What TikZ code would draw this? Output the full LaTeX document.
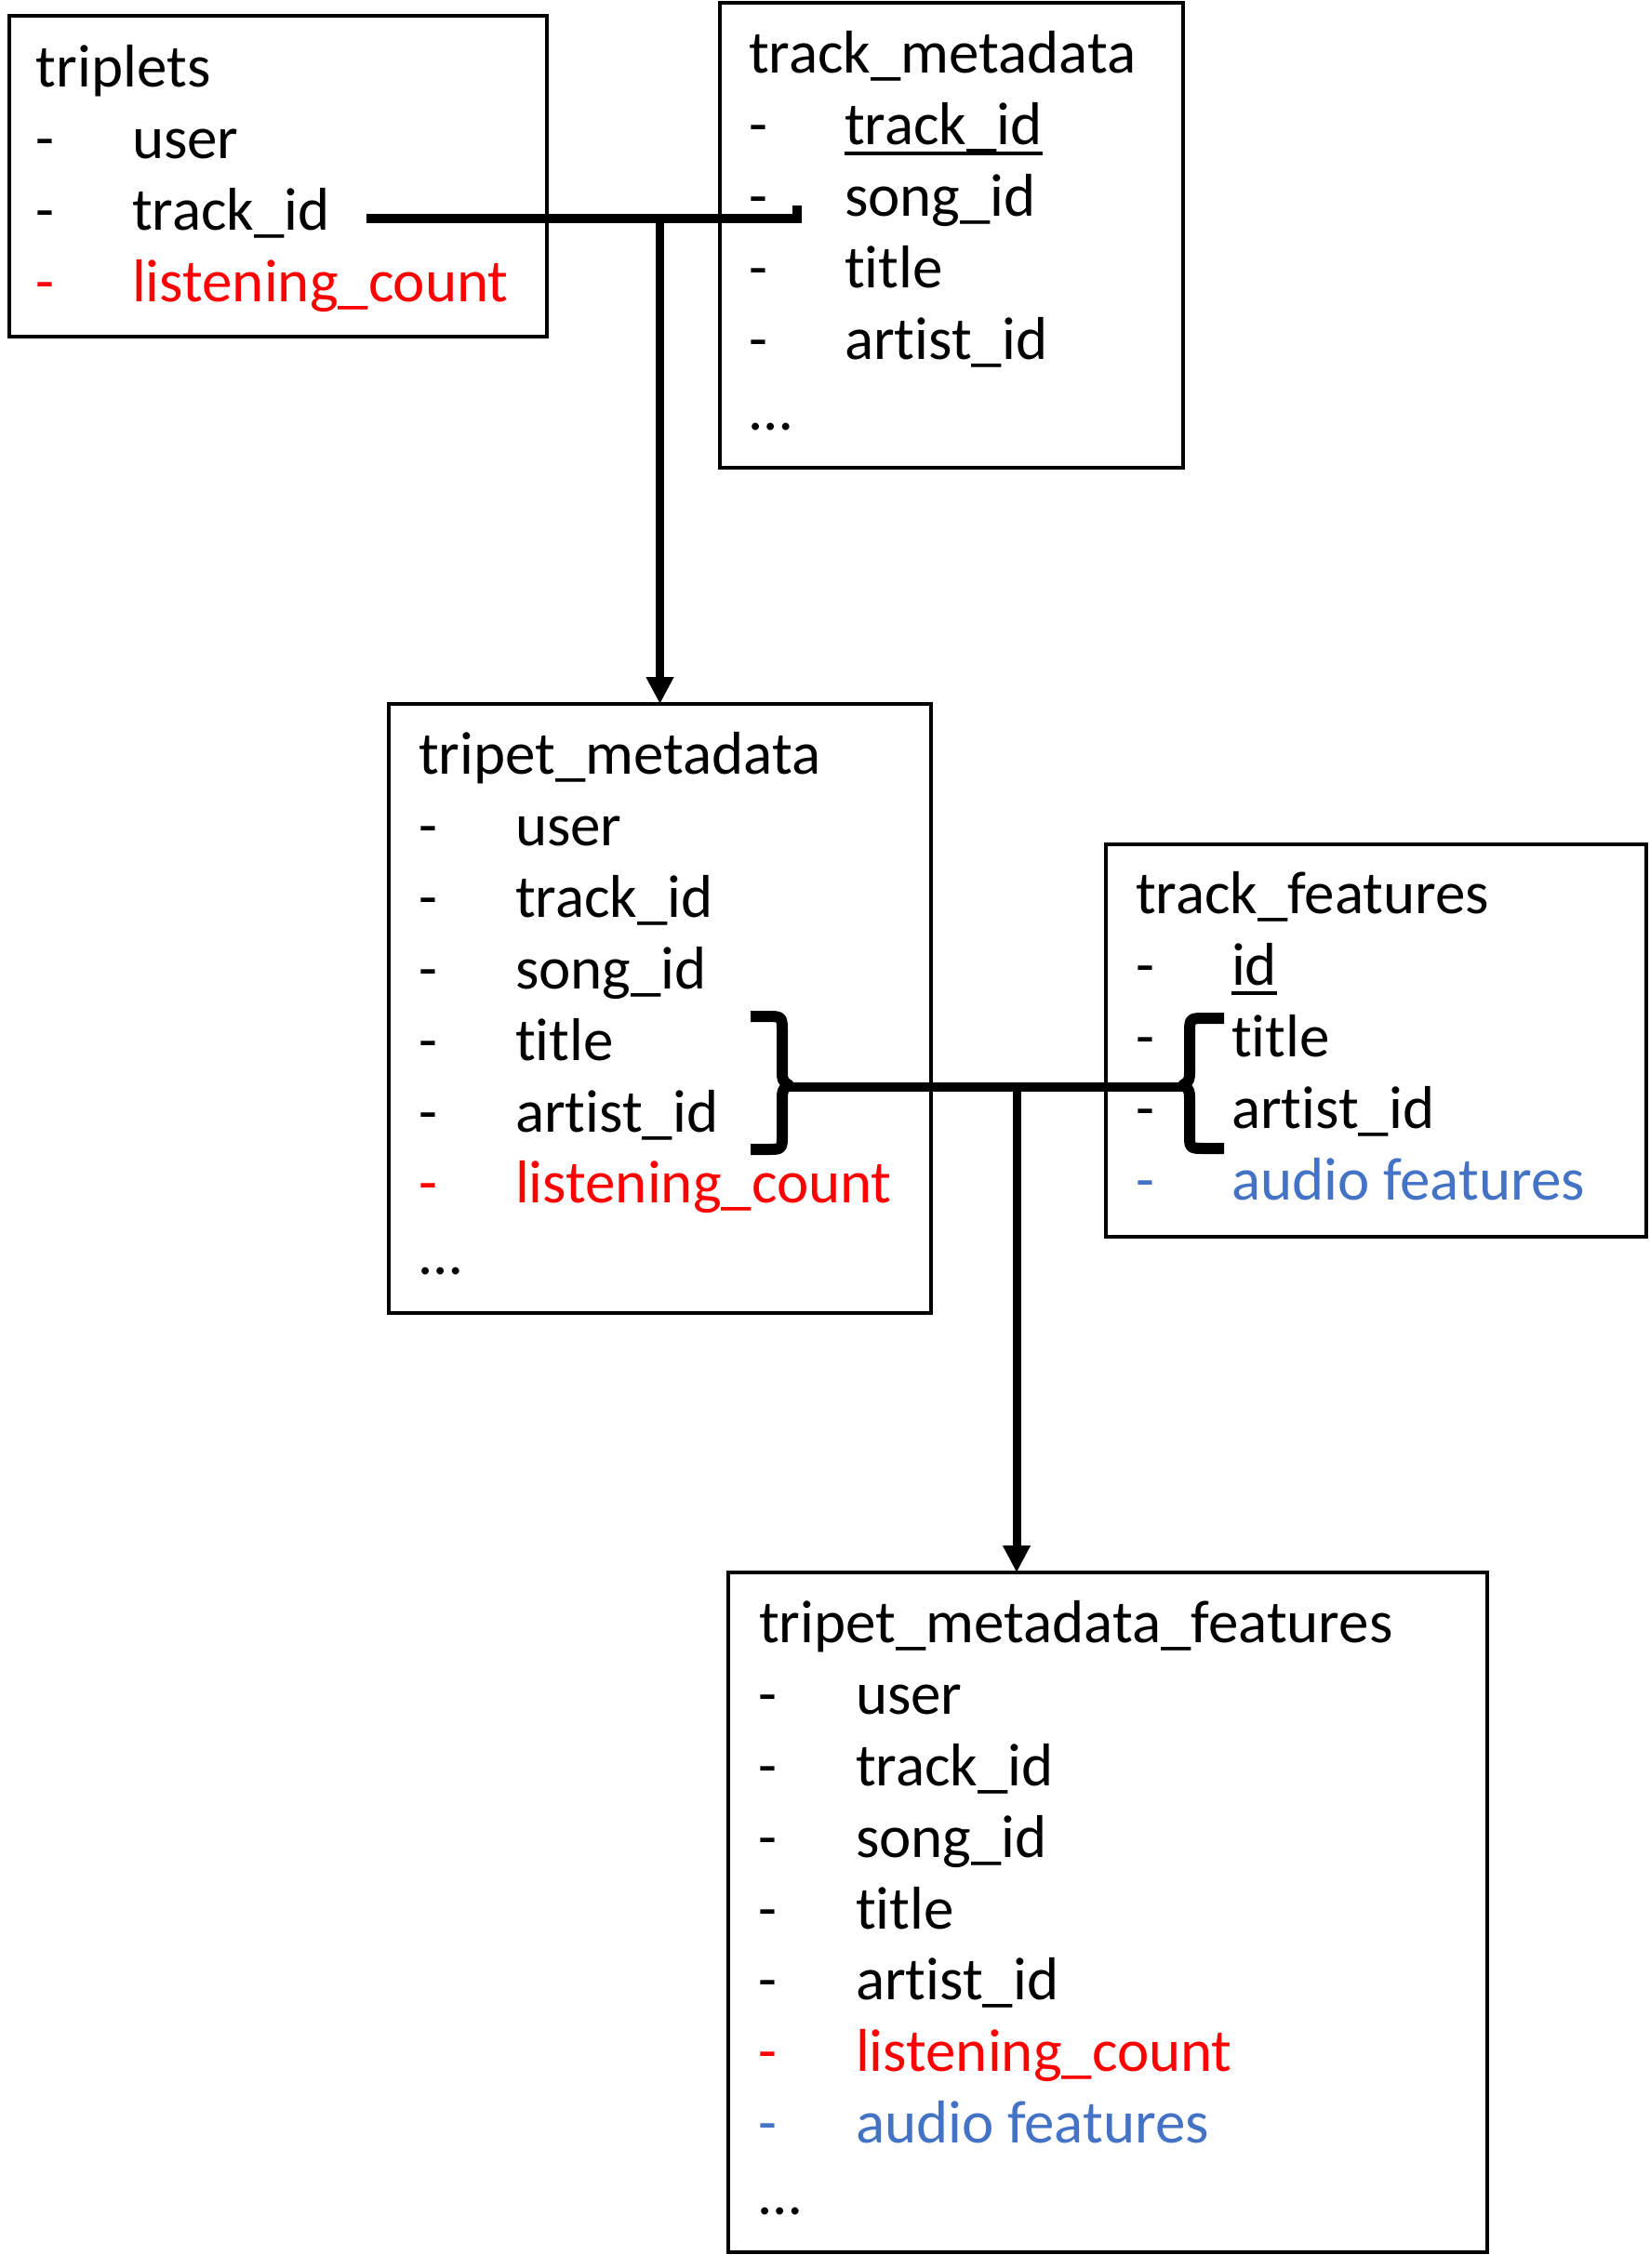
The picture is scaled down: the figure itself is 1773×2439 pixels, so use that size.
\documentclass[tikz,border=0pt]{standalone}
\usepackage{fontspec}
\setmainfont{Carlito}[Ligatures=NoCommon]
\usetikzlibrary{arrows.meta,calc}
\definecolor{myred}{HTML}{FF0000}
\definecolor{myblue}{HTML}{4472C4}
\newcommand{\fieldrow}[6]{%
  \node[txt,text=#5] (#1d) at (#2,#4) {-};
  \node[txt,text=#5] (#1) at (#3,#4) {#6};}
\begin{document}
\begin{tikzpicture}[x=0.5pt,y=-0.5pt,
  txt/.style={anchor=base west,inner sep=0pt,outer sep=0pt,font=\fontsize{32.5}{38}\selectfont},
  box/.style={draw,line width=2pt,inner sep=0pt,outer sep=0pt},
  hconn/.style={line width=5pt,line join=miter},
  vconn/.style={line width=4.5pt,-{Triangle[width=14pt,length=14.5pt]}},
  bracestyle/.style={line width=6pt,line join=round},
  uline/.style={line width=2pt}]
\useasboundingbox (0,0) rectangle (1773,2439);

% boxes
\node[box,minimum width=289pt,minimum height=172.5pt] (b1) at (299,189.5) {};
\node[box,minimum width=249.25pt,minimum height=249.85pt] (b2) at (1022.75,253) {};
\node[box,minimum width=291.5pt,minimum height=327.5pt] (b3) at (709.5,1084.5) {};
\node[box,minimum width=290.5pt,minimum height=211.25pt] (b4) at (1479.5,1118.75) {};
\node[box,minimum width=408pt,minimum height=365.5pt] (b5) at (1191,2056.5) {};

% triplets
\node[txt] (b1t) at (39,94) {triplets};
\fieldrow{b1r1}{38}{142}{171}{black}{user}
\fieldrow{b1r2}{38}{142}{248}{black}{track\_id}
\fieldrow{b1r3}{38}{142}{325}{myred}{listening\_count}

% track_metadata
\node[txt] (b2t) at (805,79) {track\_metadata};
\fieldrow{b2r1}{805}{908}{156}{black}{track\_id}
\fieldrow{b2r2}{805}{908}{233}{black}{song\_id}
\fieldrow{b2r3}{805}{908}{310}{black}{title}
\fieldrow{b2r4}{805}{908}{387}{black}{artist\_id}
\node[txt] (b2e) at (806,463) {…};
\draw[uline] ($(b2r1.base west)+(0,9)$) -- ($(b2r1.base east)+(0,9)$);

% tripet_metadata
\node[txt] (b3t) at (450,832) {tripet\_metadata};
\fieldrow{b3r1}{450}{554}{909}{black}{user}
\fieldrow{b3r2}{450}{554}{986}{black}{track\_id}
\fieldrow{b3r3}{450}{554}{1063}{black}{song\_id}
\fieldrow{b3r4}{450}{554}{1140}{black}{title}
\fieldrow{b3r5}{450}{554}{1217}{black}{artist\_id}
\fieldrow{b3r6}{450}{554}{1293}{myred}{listening\_count}
\node[txt] (b3e) at (451,1370) {…};

% track_features
\node[txt] (b4t) at (1221,982) {track\_features};
\fieldrow{b4r1}{1221}{1324}{1059}{black}{id}
\fieldrow{b4r2}{1221}{1324}{1136}{black}{title}
\fieldrow{b4r3}{1221}{1324}{1213}{black}{artist\_id}
\fieldrow{b4r4}{1221}{1324}{1290}{myblue}{audio features}
\draw[uline] ($(b4r1.base west)+(0,9)$) -- ($(b4r1.base east)+(0,9)$);

% tripet_metadata_features
\node[txt] (b5t) at (816,1766) {tripet\_metadata\_features};
\fieldrow{b5r1}{815}{920}{1843}{black}{user}
\fieldrow{b5r2}{815}{920}{1920}{black}{track\_id}
\fieldrow{b5r3}{815}{920}{1997}{black}{song\_id}
\fieldrow{b5r4}{815}{920}{2074}{black}{title}
\fieldrow{b5r5}{815}{920}{2150}{black}{artist\_id}
\fieldrow{b5r6}{815}{920}{2227}{myred}{listening\_count}
\fieldrow{b5r7}{815}{920}{2304}{myblue}{audio features}
\node[txt] (b5e) at (816,2381) {…};

% top connector
\coordinate (a1) at (394,235);
\coordinate (a2) at (857,235);
\coordinate (j1) at (709.5,235);
\draw[hconn] (a1) -- (a2) -- ++(0,-14);
\draw[vconn] (j1) -- (b3.north);

% braces
\draw[bracestyle] (807,1093) -- (824,1093) .. controls (841,1093) .. (841,1110)
  -- (841,1150) .. controls (841,1162) .. (848,1167) .. controls (841,1172) .. (841,1184)
  -- (841,1220) .. controls (841,1236) .. (824,1236) -- (807,1236);
\draw[bracestyle] (1316,1095) -- (1296,1095) .. controls (1279,1095) .. (1279,1112)
  -- (1279,1150) .. controls (1279,1162) .. (1272,1167) .. controls (1279,1172) .. (1279,1184)
  -- (1279,1220) .. controls (1279,1235) .. (1296,1235) -- (1316,1235);

% middle connector
\coordinate (lb) at (846,1169);
\coordinate (rb) at (1274,1169);
\coordinate (j2) at (1093,1169);
\draw[hconn] (lb) -- (rb);
\draw[vconn] (j2) -- (j2 |- b5.north);
\end{tikzpicture}
\end{document}
